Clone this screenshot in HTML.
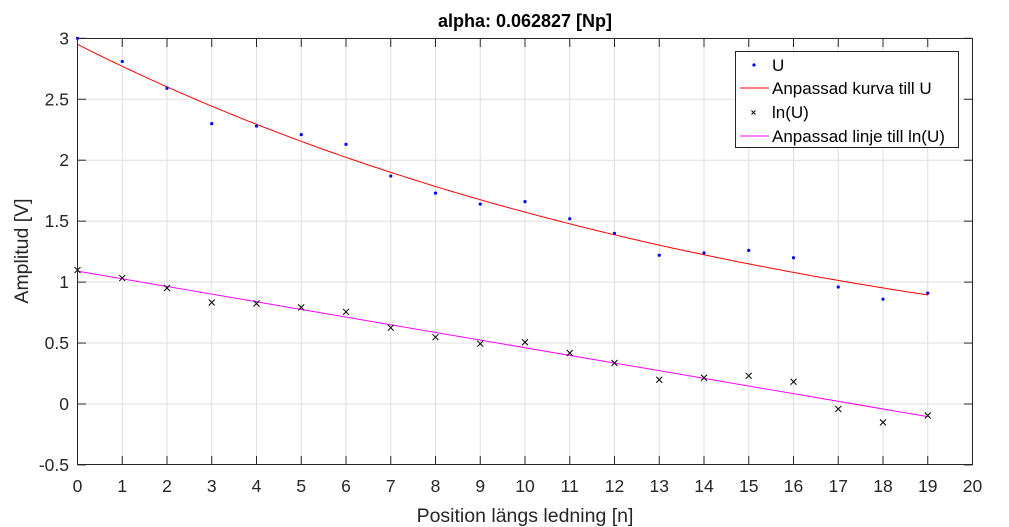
<!DOCTYPE html>
<html><head><meta charset="utf-8"><style>
body{margin:0;background:#fff;}
svg{display:block;font-family:"Liberation Sans",Arial,sans-serif;}
</style></head><body>
<svg id="s" width="1009" height="527" viewBox="0 0 1009 527" xmlns="http://www.w3.org/2000/svg">
<rect width="1009" height="527" fill="#fff"/>
<g id="grid" stroke="#dfdfdf" stroke-width="1"></g>
<g id="data"></g>
<rect x="77.5" y="38.5" width="895" height="426" fill="none" stroke="#262626" stroke-width="1"/>
<g id="ticks" stroke="#262626" stroke-width="1"></g>
<g id="labels" fill="#262626" font-size="17.5"></g>
<text x="525" y="27" text-anchor="middle" font-size="18" font-weight="bold" fill="#000">alpha: 0.062827 [Np]</text>
<text x="525" y="522" text-anchor="middle" font-size="19.5" fill="#262626">Position längs ledning [n]</text>
<text transform="translate(28,251) rotate(-90)" text-anchor="middle" font-size="19.5" fill="#262626">Amplitud [V]</text>
<rect x="735.5" y="51.5" width="223" height="96" fill="#fff" stroke="#262626" stroke-width="1"/>
<circle cx="754" cy="65" r="1.6" fill="#0000ff"/>
<line x1="740" y1="88" x2="769" y2="88" stroke="#ff0000"/>
<path d="M751.5,110.5l4,4M755.5,110.5l-4,4" stroke="#000" stroke-width="1"/>
<line x1="740" y1="136" x2="769" y2="136" stroke="#ff00ff"/>
<g font-size="17" fill="#000">
<text x="772" y="71">U</text>
<text x="772" y="94">Anpassad kurva till U</text>
<text x="772" y="118">ln(U)</text>
<text x="772" y="142">Anpassad linje till ln(U)</text>
</g>
</svg>
<script>
const NS="http://www.w3.org/2000/svg";
const X=v=>77.5+v*44.75, Y=v=>404-v*121.9;
function el(p,t,a){const e=document.createElementNS(NS,t);for(const k in a)e.setAttribute(k,a[k]);document.getElementById(p).appendChild(e);return e;}
for(let i=1;i<20;i++){el("grid","line",{x1:X(i),y1:38.5,x2:X(i),y2:464.5});}
for(let v=-0.5;v<=3;v+=0.5){if(v>-0.5&&v<3)el("grid","line",{x1:77.5,y1:Y(v),x2:972.5,y2:Y(v)});}
for(let i=0;i<=20;i++){el("ticks","line",{x1:X(i),y1:464.5,x2:X(i),y2:456});el("ticks","line",{x1:X(i),y1:38.5,x2:X(i),y2:47});
 const t=el("labels","text",{x:X(i),y:492,"text-anchor":"middle"});t.textContent=i;}
for(let v=-0.5;v<=3.01;v+=0.5){el("ticks","line",{x1:77.5,y1:Y(v),x2:86,y2:Y(v)});el("ticks","line",{x1:972.5,y1:Y(v),x2:964,y2:Y(v)});
 const t=el("labels","text",{x:69,y:Y(v)+6,"text-anchor":"end"});t.textContent=String(Math.round(v*10)/10);}
const U=[3.0,2.81,2.59,2.30,2.28,2.21,2.13,1.87,1.73,1.64,1.66,1.52,1.40,1.22,1.24,1.26,1.20,0.96,0.86,0.91];
let p1="";
for(let i=0;i<=190;i++){const x=i/10;p1+=(i?"L":"M")+X(x).toFixed(1)+","+Y(2.95*Math.exp(-0.062827*x)).toFixed(1);}
el("data","path",{d:p1,fill:"none",stroke:"#ff0000","stroke-width":1});
el("data","line",{x1:X(0),y1:Y(1.09),x2:X(19),y2:Y(1.09-0.062827*19),stroke:"#ff00ff","stroke-width":1});
U.forEach((u,i)=>{el("data","circle",{cx:X(i),cy:Y(u),r:1.6,fill:"#0000ff"});
 const x=X(i),y=Y(Math.log(u));el("data","path",{d:`M${x-3},${y-3}l6,6M${x+3},${y-3}l-6,6`,stroke:"#000","stroke-width":1});});
</script>
</body></html>
